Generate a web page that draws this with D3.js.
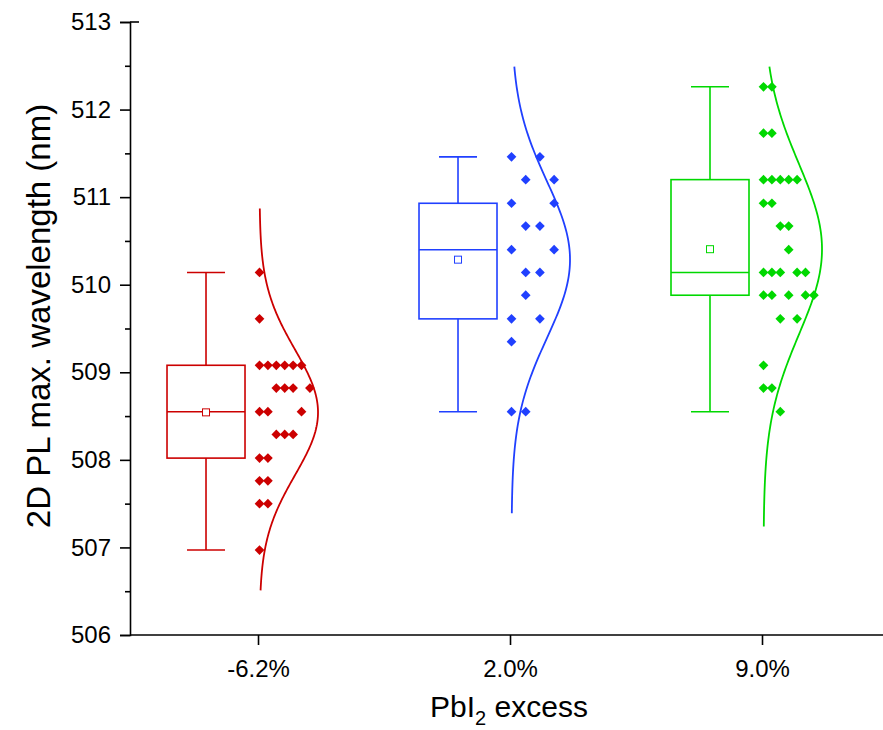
<!DOCTYPE html>
<html>
<head>
<meta charset="utf-8">
<script src="https://cdn.jsdelivr.net/npm/d3@7"></script>
<style>
  html, body { margin: 0; padding: 0; background: #fff; }
  svg { display: block; font-family: "Liberation Sans", Arial, sans-serif; }
</style>
</head>
<body>
<svg id="chart" width="883" height="730"></svg>
<script>
// ---- data ----
const categories = ["-6.2%", "2.0%", "9.0%"];
const yTicks = [506, 507, 508, 509, 510, 511, 512, 513];

const redValues = [510.14, 509.61,
  509.08, 509.08, 509.08, 509.08, 509.08, 509.08,
  508.82, 508.82, 508.82, 508.82,
  508.55, 508.55, 508.55,
  508.29, 508.29, 508.29,
  508.02, 508.02, 507.76, 507.76, 507.50, 507.50, 506.97];
const redSlots = [0, 0,
  0, 1, 2, 3, 4, 5,
  2, 3, 4, 6,
  0, 1, 5,
  2, 3, 4,
  0, 1, 0, 1, 0, 1, 0];

const blueValues = [511.46, 511.46, 511.20, 511.20, 510.93, 510.93,
  510.67, 510.67, 510.40, 510.40, 510.14, 510.14, 509.88,
  509.61, 509.61, 509.35, 508.55, 508.55];
const blueSlots = [0, 2, 1, 3, 0, 3,
  1, 2, 0, 3, 1, 2, 1,
  0, 2, 0, 0, 1];

const greenValues = [512.26, 512.26, 511.73, 511.73,
  511.20, 511.20, 511.20, 511.20, 511.20,
  510.93, 510.93, 510.67, 510.67, 510.40,
  510.14, 510.14, 510.14, 510.14, 510.14,
  509.88, 509.88, 509.88, 509.88, 509.88,
  509.61, 509.61, 509.08, 508.82, 508.82, 508.55];
const greenSlots = [0, 1, 0, 1,
  0, 1, 2, 3, 4,
  0, 1, 2, 3, 3,
  0, 1, 2, 4, 5,
  0, 1, 3, 5, 6,
  2, 4, 0, 0, 1, 2];

const curveLo = [506.51, 507.39, 507.24];
const curveHi = [510.87, 512.49, 512.49];

// ---- layout ----
const colors = ["#CC0000", "#2040FF", "#00D800"];
const slotSpacing = [8.4, 14.2, 8.4];
const groups = [
  { values: redValues, slots: redSlots },
  { values: blueValues, slots: blueSlots },
  { values: greenValues, slots: greenSlots }
];
const FONT = "'Liberation Sans', Arial, sans-serif";

const svg = d3.select("#chart");
const y = d3.scaleLinear().domain([506, 513]).range([635, 22]);
const x = d3.scaleLinear().domain([-0.508, 2.5]).range([130, 888]);

// axes
const yAxis = d3.axisLeft(y).tickValues(yTicks).tickSize(10).tickPadding(9).tickFormat(d3.format("d"));
const gy = svg.append("g").attr("transform", "translate(130,0)").call(yAxis);
const yMinor = d3.axisLeft(y).tickValues(yTicks.slice(0, -1).map(d => d + 0.5)).tickSize(5).tickFormat("");
svg.append("g").attr("transform", "translate(130,0)").call(yMinor).select(".domain").remove();
// top tick crosses the axis
svg.append("line").attr("x1", 130).attr("x2", 139).attr("y1", y(513)).attr("y2", y(513))
  .attr("stroke", "#000").attr("stroke-width", 1.6);

const xAxis = d3.axisBottom(x).tickValues([0, 1, 2]).tickSize(10).tickPadding(15)
  .tickFormat(i => categories[i]);
const gx = svg.append("g").attr("transform", "translate(0,635)").call(xAxis);
gx.select(".domain").attr("d", "M130,0H883");

svg.selectAll(".domain, .tick line").attr("stroke", "#000").attr("stroke-width", 1.6);
svg.selectAll(".tick text").attr("fill", "#000")
  .style("font-size", "24px").style("font-family", FONT);

// axis titles
svg.append("text")
  .attr("transform", "translate(50,316) rotate(-90)")
  .attr("text-anchor", "middle")
  .style("font-size", "33px").style("font-family", FONT)
  .text("2D PL max. wavelength (nm)");

const xt = svg.append("text")
  .attr("x", 509).attr("y", 716.5)
  .attr("text-anchor", "middle")
  .style("font-size", "30px").style("font-family", FONT);
xt.append("tspan").text("PbI");
xt.append("tspan").style("font-size", "20px").attr("dy", 8).text("2");
xt.append("tspan").attr("dy", -8).text(" excess");

// hinges (Tukey)
function hinges(vals) {
  const s = vals.slice().sort((a, b) => a - b);
  const n = s.length;
  const med = d3.median(s);
  const half = Math.ceil(n / 2);
  const lower = s.slice(0, half);
  const upper = s.slice(n - half);
  return { q1: d3.median(lower), med, q3: d3.median(upper), min: s[0], max: s[n - 1], mean: d3.mean(s), sd: d3.deviation(s) };
}

groups.forEach((g, i) => {
  const c = colors[i];
  const st = hinges(g.values);
  const cx = x(i) - 52;
  const bw = 78, cw = 38;
  const gg = svg.append("g").attr("stroke", c).attr("fill", "none").attr("stroke-width", 1.6);

  // whiskers
  gg.append("line").attr("x1", cx).attr("x2", cx).attr("y1", y(st.q3)).attr("y2", y(st.max));
  gg.append("line").attr("x1", cx).attr("x2", cx).attr("y1", y(st.q1)).attr("y2", y(st.min));
  gg.append("line").attr("x1", cx - cw / 2).attr("x2", cx + cw / 2).attr("y1", y(st.max)).attr("y2", y(st.max));
  gg.append("line").attr("x1", cx - cw / 2).attr("x2", cx + cw / 2).attr("y1", y(st.min)).attr("y2", y(st.min));
  // box
  gg.append("rect").attr("x", cx - bw / 2).attr("y", y(st.q3)).attr("width", bw).attr("height", y(st.q1) - y(st.q3));
  gg.append("line").attr("x1", cx - bw / 2).attr("x2", cx + bw / 2).attr("y1", y(st.med)).attr("y2", y(st.med));
  // mean
  gg.append("rect").attr("x", cx - 3.5).attr("y", y(st.mean) - 3.5).attr("width", 7).attr("height", 7)
    .attr("stroke-width", 1).attr("fill", "#fff");

  // points
  const base = x(i) + 1.5;
  const sym = d3.symbol().type(d3.symbolDiamond2).size(60);
  svg.append("g").selectAll("path").data(g.values).join("path")
    .attr("d", sym)
    .attr("transform", (v, k) => "translate(" + (base + g.slots[k] * slotSpacing[i]) + "," + y(v) + ")")
    .attr("fill", c);

  // normal curve
  const amp = 58.5;
  const lo = curveLo[i], hi = curveHi[i];
  const samples = d3.range(0, 201).map(k => lo + (hi - lo) * k / 200);
  const line = d3.line()
    .x(v => base + amp * Math.exp(-0.5 * Math.pow((v - st.mean) / st.sd, 2)))
    .y(v => y(v));
  svg.append("path").attr("d", line(samples)).attr("fill", "none").attr("stroke", c).attr("stroke-width", 1.8);
});
</script>
</body>
</html>
